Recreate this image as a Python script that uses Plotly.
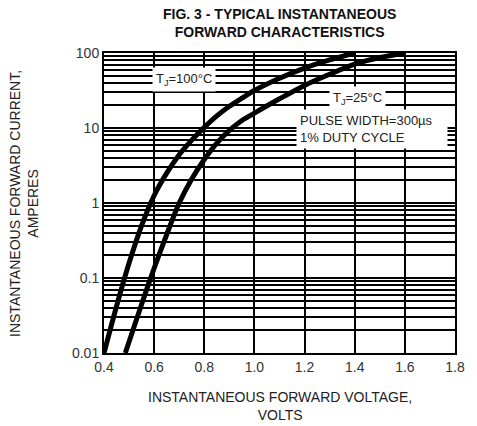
import plotly.graph_objects as go

# Data (forward voltage in V, current in A)
v_100 = [0.40, 0.45, 0.50, 0.55, 0.60, 0.65, 0.70, 0.75, 0.80, 0.85, 0.90, 0.95, 1.00, 1.10, 1.20, 1.30, 1.40]
i_100 = [0.01, 0.042, 0.158, 0.50, 1.26, 2.5, 4.4, 6.9, 10.2, 14.5, 19.5, 25, 31.6, 46, 63, 81, 100]

v_25 = [0.485, 0.50, 0.55, 0.60, 0.65, 0.70, 0.75, 0.80, 0.85, 0.90, 0.95, 1.00, 1.10, 1.20, 1.30, 1.40, 1.50, 1.60]
i_25 = [0.01, 0.0141, 0.0447, 0.135, 0.38, 1.0, 2.09, 3.8, 6.3, 9.3, 12.6, 15.8, 24.5, 37, 52, 71, 87, 100]

x_ticks = [0.4, 0.6, 0.8, 1.0, 1.2, 1.4, 1.6, 1.8]
x_labels = ["0.4", "0.6", "0.8", "1.0", "1.2", "1.4", "1.6", "1.8"]
y_ticks = [0.01, 0.1, 1, 10, 100]
y_labels = ["0.01", "0.1", "1", "10", "100"]
y_minor = [round(d * m, 6) for d in [0.01, 0.1, 1, 10] for m in range(2, 10)]

FONT = "Liberation Sans, Arial, sans-serif"

fig = go.Figure()
for v, i in [(v_100, i_100), (v_25, i_25)]:
    fig.add_trace(go.Scatter(x=v, y=i, mode="lines",
                             line=dict(color="black", width=5, shape="spline", smoothing=0.8),
                             showlegend=False, hoverinfo="skip"))

# the page body has an 8px margin, so the figure is 8px smaller and margins shifted
fig.update_layout(
    width=469, height=418, autosize=False,
    margin=dict(l=96, r=13, t=45, b=73),
    paper_bgcolor="white", plot_bgcolor="white",
    font=dict(family=FONT, color="#111", size=12),
    xaxis=dict(range=[0.4, 1.8], tickvals=x_ticks, ticktext=x_labels,
               showgrid=True, gridcolor="black", gridwidth=2,
               showline=True, linecolor="black", linewidth=2, mirror=True,
               ticks="", zeroline=False, tickfont=dict(size=14, color="#333")),
    yaxis=dict(type="log", range=[-2, 2], tickvals=y_ticks, ticktext=y_labels,
               showgrid=True, gridcolor="black", gridwidth=2,
               minor=dict(tickvals=y_minor, showgrid=True, gridcolor="black", gridwidth=2, ticks=""),
               showline=True, linecolor="black", linewidth=2, mirror=True,
               ticks="", zeroline=False, tickfont=dict(size=14, color="#333")),
)

ann = []
ann.append(dict(xref="paper", yref="paper", x=0.5, y=1.1, xanchor="center", yanchor="middle",
                text="<b>FIG. 3 - TYPICAL INSTANTANEOUS<br>FORWARD CHARACTERISTICS</b>",
                showarrow=False, font=dict(size=14, color="#111")))
ann.append(dict(xref="paper", yref="paper", x=0.5, y=-0.175, xanchor="center", yanchor="middle",
                text="INSTANTANEOUS FORWARD VOLTAGE,<br>VOLTS",
                showarrow=False, font=dict(size=14, color="#222")))
ann.append(dict(xref="paper", yref="paper", x=-0.228, y=0.5, xanchor="center", yanchor="middle",
                text="INSTANTANEOUS FORWARD CURRENT,<br>AMPERES", textangle=-90,
                showarrow=False, font=dict(size=14, color="#222")))
ann.append(dict(xref="x", yref="y", x=0.72, y=1.65, xanchor="center", yanchor="middle",
                text="T<sub>J</sub>=100°C", showarrow=False, bgcolor="white", borderpad=3,
                font=dict(size=13, color="#222")))
ann.append(dict(xref="x", yref="y", x=1.41, y=1.40, xanchor="center", yanchor="middle",
                text="T<sub>J</sub>=25°C", showarrow=False, bgcolor="white", borderpad=3,
                font=dict(size=13, color="#222")))
ann.append(dict(xref="x", yref="y", x=1.165, y=0.993, xanchor="left", yanchor="middle",
                text="PULSE WIDTH=300µs<br>1% DUTY CYCLE", align="left", width=144,
                showarrow=False, bgcolor="white", borderpad=3,
                font=dict(size=13, color="#222")))
fig.update_layout(annotations=ann)

fig.write_html("out.html")
